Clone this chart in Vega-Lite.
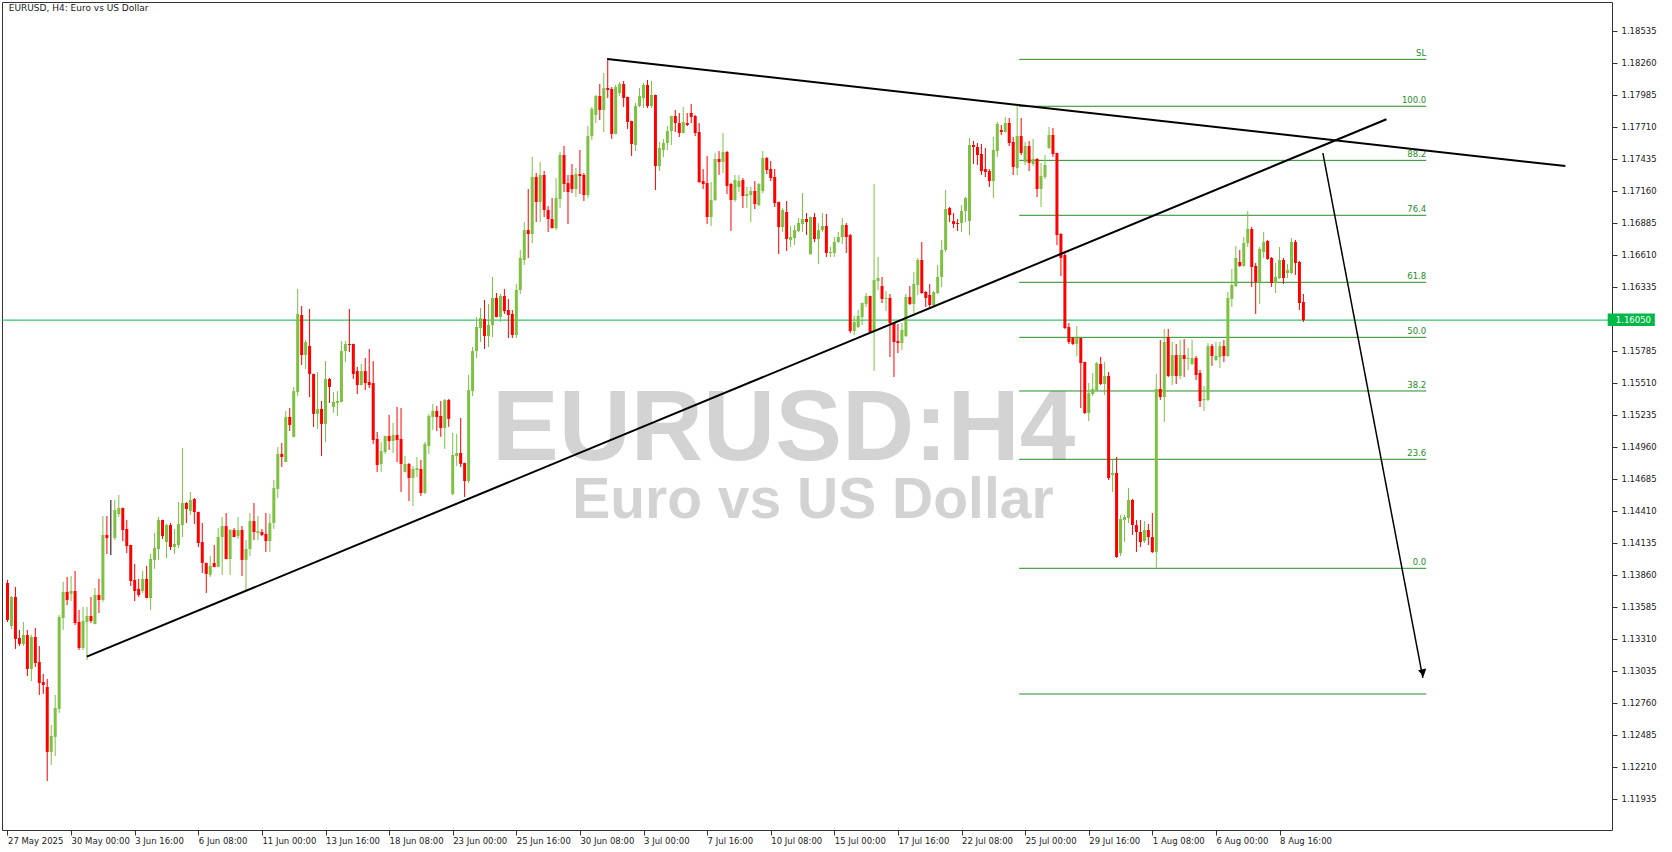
{
"$schema": "https://vega.github.io/schema/vega-lite/v6.json",
"width": 1610, "height": 828,
"autosize": {"type": "none"},
"padding": {"left": 2, "top": 2, "right": 60, "bottom": 22},
"background": "white",
"config": {"view": {"stroke": "#333333", "strokeWidth": 1}},
"resolve": {"axis": {"x": "independent", "y": "independent"}},
"datasets": {
"k": [
{"i":0,"o":1.13791,"h":1.13817,"l":1.13456,"c":1.13473},
{"i":1,"o":1.13421,"h":1.13679,"l":1.13396,"c":1.13671},
{"i":2,"o":1.13671,"h":1.13757,"l":1.13224,"c":1.13310},
{"i":3,"o":1.13318,"h":1.13387,"l":1.13249,"c":1.13267},
{"i":4,"o":1.13267,"h":1.13456,"l":1.13249,"c":1.13344},
{"i":5,"o":1.13344,"h":1.13387,"l":1.12991,"c":1.13052},
{"i":6,"o":1.13052,"h":1.13344,"l":1.12948,"c":1.13327},
{"i":7,"o":1.13327,"h":1.13404,"l":1.13069,"c":1.13103},
{"i":8,"o":1.13112,"h":1.13249,"l":1.12828,"c":1.12931},
{"i":9,"o":1.12940,"h":1.13009,"l":1.12837,"c":1.12914},
{"i":10,"o":1.12897,"h":1.12966,"l":1.12089,"c":1.12339},
{"i":11,"o":1.12339,"h":1.12571,"l":1.12227,"c":1.12476},
{"i":12,"o":1.12468,"h":1.12828,"l":1.12304,"c":1.12717},
{"i":13,"o":1.12709,"h":1.13516,"l":1.12674,"c":1.13499},
{"i":14,"o":1.13490,"h":1.13800,"l":1.13387,"c":1.13714},
{"i":15,"o":1.13714,"h":1.13843,"l":1.13602,"c":1.13645},
{"i":16,"o":1.13697,"h":1.13851,"l":1.13636,"c":1.13722},
{"i":17,"o":1.13722,"h":1.13894,"l":1.13430,"c":1.13447},
{"i":18,"o":1.13456,"h":1.13559,"l":1.13215,"c":1.13232},
{"i":19,"o":1.13232,"h":1.13585,"l":1.13215,"c":1.13464},
{"i":20,"o":1.13456,"h":1.13585,"l":1.13129,"c":1.13507},
{"i":21,"o":1.13507,"h":1.13671,"l":1.13447,"c":1.13464},
{"i":22,"o":1.13439,"h":1.13748,"l":1.13435,"c":1.13688},
{"i":23,"o":1.13688,"h":1.13826,"l":1.13533,"c":1.13645},
{"i":24,"o":1.13645,"h":1.14366,"l":1.13628,"c":1.14203},
{"i":25,"o":1.14203,"h":1.14366,"l":1.14040,"c":1.14177},
{"i":26,"o":1.14186,"h":1.14504,"l":1.14031,"c":1.14186},
{"i":27,"o":1.14177,"h":1.14504,"l":1.14160,"c":1.14418},
{"i":28,"o":1.14384,"h":1.14547,"l":1.14358,"c":1.14435},
{"i":29,"o":1.14435,"h":1.14440,"l":1.14151,"c":1.14246},
{"i":30,"o":1.14255,"h":1.14332,"l":1.14048,"c":1.14108},
{"i":31,"o":1.14117,"h":1.14120,"l":1.13765,"c":1.13808},
{"i":32,"o":1.13817,"h":1.13955,"l":1.13636,"c":1.13722},
{"i":33,"o":1.13740,"h":1.13826,"l":1.13671,"c":1.13688},
{"i":34,"o":1.13722,"h":1.13894,"l":1.13705,"c":1.13826},
{"i":35,"o":1.13826,"h":1.13937,"l":1.13660,"c":1.13662},
{"i":36,"o":1.13662,"h":1.14040,"l":1.13559,"c":1.13997},
{"i":37,"o":1.13989,"h":1.14220,"l":1.13912,"c":1.14091},
{"i":38,"o":1.14083,"h":1.14358,"l":1.13989,"c":1.14332},
{"i":39,"o":1.14332,"h":1.14335,"l":1.14169,"c":1.14194},
{"i":40,"o":1.14143,"h":1.14298,"l":1.14005,"c":1.14289},
{"i":41,"o":1.14289,"h":1.14306,"l":1.14074,"c":1.14100},
{"i":42,"o":1.14100,"h":1.14255,"l":1.14040,"c":1.14126},
{"i":43,"o":1.14117,"h":1.14487,"l":1.14091,"c":1.14298},
{"i":44,"o":1.14289,"h":1.14951,"l":1.14186,"c":1.14478},
{"i":45,"o":1.14478,"h":1.14487,"l":1.14306,"c":1.14427},
{"i":46,"o":1.14409,"h":1.14573,"l":1.14375,"c":1.14504},
{"i":47,"o":1.14513,"h":1.14521,"l":1.14298,"c":1.14401},
{"i":48,"o":1.14401,"h":1.14405,"l":1.14100,"c":1.14134},
{"i":49,"o":1.14143,"h":1.14306,"l":1.13877,"c":1.13963},
{"i":50,"o":1.13963,"h":1.13966,"l":1.13705,"c":1.13869},
{"i":51,"o":1.13860,"h":1.14022,"l":1.13843,"c":1.13937},
{"i":52,"o":1.13963,"h":1.14117,"l":1.13925,"c":1.13929},
{"i":53,"o":1.13929,"h":1.14263,"l":1.13925,"c":1.14186},
{"i":54,"o":1.14186,"h":1.14358,"l":1.13860,"c":1.14280},
{"i":55,"o":1.14280,"h":1.14392,"l":1.13994,"c":1.13997},
{"i":56,"o":1.13997,"h":1.14255,"l":1.13860,"c":1.14246},
{"i":57,"o":1.14246,"h":1.14263,"l":1.14183,"c":1.14186},
{"i":58,"o":1.14194,"h":1.14358,"l":1.14169,"c":1.14246},
{"i":59,"o":1.14246,"h":1.14280,"l":1.13851,"c":1.13989},
{"i":60,"o":1.13989,"h":1.14160,"l":1.13731,"c":1.14083},
{"i":61,"o":1.14083,"h":1.14392,"l":1.14022,"c":1.14323},
{"i":62,"o":1.14323,"h":1.14478,"l":1.14160,"c":1.14229},
{"i":63,"o":1.14220,"h":1.14366,"l":1.14160,"c":1.14237},
{"i":64,"o":1.14229,"h":1.14255,"l":1.14194,"c":1.14203},
{"i":65,"o":1.14212,"h":1.14392,"l":1.14057,"c":1.14151},
{"i":66,"o":1.14151,"h":1.14384,"l":1.14057,"c":1.14306},
{"i":67,"o":1.14306,"h":1.14676,"l":1.14255,"c":1.14607},
{"i":68,"o":1.14599,"h":1.14960,"l":1.14521,"c":1.14900},
{"i":69,"o":1.14900,"h":1.14994,"l":1.14788,"c":1.14874},
{"i":70,"o":1.14831,"h":1.15269,"l":1.14828,"c":1.15218},
{"i":71,"o":1.15218,"h":1.15295,"l":1.15097,"c":1.15149},
{"i":72,"o":1.15046,"h":1.15475,"l":1.15043,"c":1.15440},
{"i":73,"o":1.15432,"h":1.16318,"l":1.15397,"c":1.16103},
{"i":74,"o":1.16094,"h":1.16171,"l":1.15664,"c":1.15750},
{"i":75,"o":1.15750,"h":1.15879,"l":1.15630,"c":1.15862},
{"i":76,"o":1.15827,"h":1.16146,"l":1.15389,"c":1.15587},
{"i":77,"o":1.15587,"h":1.15590,"l":1.15132,"c":1.15244},
{"i":78,"o":1.15244,"h":1.15604,"l":1.15115,"c":1.15287},
{"i":79,"o":1.15287,"h":1.15355,"l":1.14882,"c":1.15158},
{"i":80,"o":1.15158,"h":1.15698,"l":1.15003,"c":1.15544},
{"i":81,"o":1.15544,"h":1.15552,"l":1.15338,"c":1.15475},
{"i":82,"o":1.15304,"h":1.15432,"l":1.15252,"c":1.15347},
{"i":83,"o":1.15338,"h":1.15440,"l":1.15226,"c":1.15355},
{"i":84,"o":1.15347,"h":1.15870,"l":1.15344,"c":1.15784},
{"i":85,"o":1.15784,"h":1.15870,"l":1.15690,"c":1.15845},
{"i":86,"o":1.15845,"h":1.16146,"l":1.15776,"c":1.15836},
{"i":87,"o":1.15845,"h":1.15848,"l":1.15544,"c":1.15587},
{"i":88,"o":1.15612,"h":1.15647,"l":1.15415,"c":1.15492},
{"i":89,"o":1.15492,"h":1.15673,"l":1.15489,"c":1.15612},
{"i":90,"o":1.15612,"h":1.15724,"l":1.15449,"c":1.15509},
{"i":91,"o":1.15518,"h":1.15802,"l":1.15466,"c":1.15492},
{"i":92,"o":1.15509,"h":1.15698,"l":1.14986,"c":1.15020},
{"i":93,"o":1.15029,"h":1.15089,"l":1.14745,"c":1.14805},
{"i":94,"o":1.14814,"h":1.15003,"l":1.14745,"c":1.14925},
{"i":95,"o":1.14917,"h":1.15057,"l":1.14900,"c":1.15054},
{"i":96,"o":1.15054,"h":1.15235,"l":1.14934,"c":1.15011},
{"i":97,"o":1.15011,"h":1.15166,"l":1.14908,"c":1.15063},
{"i":98,"o":1.15063,"h":1.15304,"l":1.14831,"c":1.15020},
{"i":99,"o":1.15029,"h":1.15295,"l":1.14573,"c":1.14814},
{"i":100,"o":1.14745,"h":1.14882,"l":1.14742,"c":1.14814},
{"i":101,"o":1.14814,"h":1.14822,"l":1.14495,"c":1.14693},
{"i":102,"o":1.14693,"h":1.14796,"l":1.14452,"c":1.14771},
{"i":103,"o":1.14762,"h":1.14874,"l":1.14702,"c":1.14779},
{"i":104,"o":1.14771,"h":1.14848,"l":1.14538,"c":1.14564},
{"i":105,"o":1.14564,"h":1.15003,"l":1.14556,"c":1.14986},
{"i":106,"o":1.14968,"h":1.15244,"l":1.14900,"c":1.15226},
{"i":107,"o":1.15218,"h":1.15330,"l":1.15106,"c":1.15269},
{"i":108,"o":1.15269,"h":1.15312,"l":1.15097,"c":1.15218},
{"i":109,"o":1.15226,"h":1.15355,"l":1.15046,"c":1.15123},
{"i":110,"o":1.15123,"h":1.15372,"l":1.14943,"c":1.15364},
{"i":111,"o":1.15364,"h":1.15372,"l":1.15132,"c":1.15201},
{"i":112,"o":1.14556,"h":1.15080,"l":1.14547,"c":1.14891},
{"i":113,"o":1.14882,"h":1.15071,"l":1.14796,"c":1.14908},
{"i":114,"o":1.14908,"h":1.15209,"l":1.14788,"c":1.14814},
{"i":115,"o":1.14822,"h":1.14825,"l":1.14530,"c":1.14667},
{"i":116,"o":1.14667,"h":1.15578,"l":1.14650,"c":1.15449},
{"i":117,"o":1.15440,"h":1.15819,"l":1.15397,"c":1.15784},
{"i":118,"o":1.15784,"h":1.16077,"l":1.15724,"c":1.15991},
{"i":119,"o":1.15982,"h":1.16154,"l":1.15862,"c":1.16068},
{"i":120,"o":1.16060,"h":1.16223,"l":1.15802,"c":1.15913},
{"i":121,"o":1.15913,"h":1.16189,"l":1.15819,"c":1.16008},
{"i":122,"o":1.16008,"h":1.16421,"l":1.15905,"c":1.16240},
{"i":123,"o":1.16240,"h":1.16283,"l":1.16074,"c":1.16077},
{"i":124,"o":1.16077,"h":1.16275,"l":1.16034,"c":1.16257},
{"i":125,"o":1.16257,"h":1.16318,"l":1.16103,"c":1.16128},
{"i":126,"o":1.16137,"h":1.16232,"l":1.15896,"c":1.16094},
{"i":127,"o":1.16103,"h":1.16137,"l":1.15896,"c":1.15922},
{"i":128,"o":1.15922,"h":1.16361,"l":1.15896,"c":1.16309},
{"i":129,"o":1.16309,"h":1.16653,"l":1.16275,"c":1.16584},
{"i":130,"o":1.16567,"h":1.16893,"l":1.16524,"c":1.16824},
{"i":131,"o":1.16824,"h":1.17177,"l":1.16584,"c":1.16790},
{"i":132,"o":1.16790,"h":1.17452,"l":1.16713,"c":1.17280},
{"i":133,"o":1.17280,"h":1.17314,"l":1.16893,"c":1.17065},
{"i":134,"o":1.17065,"h":1.17409,"l":1.16893,"c":1.17297},
{"i":135,"o":1.17297,"h":1.17331,"l":1.16936,"c":1.16996},
{"i":136,"o":1.16996,"h":1.17030,"l":1.16807,"c":1.16919},
{"i":137,"o":1.16919,"h":1.17099,"l":1.16838,"c":1.16841},
{"i":138,"o":1.16841,"h":1.17271,"l":1.16824,"c":1.17099},
{"i":139,"o":1.17091,"h":1.17495,"l":1.17013,"c":1.17469},
{"i":140,"o":1.17469,"h":1.17547,"l":1.17151,"c":1.17220},
{"i":141,"o":1.17228,"h":1.17297,"l":1.16876,"c":1.17151},
{"i":142,"o":1.17297,"h":1.17392,"l":1.17142,"c":1.17177},
{"i":143,"o":1.17177,"h":1.17357,"l":1.17108,"c":1.17306},
{"i":144,"o":1.17306,"h":1.17512,"l":1.17134,"c":1.17288},
{"i":145,"o":1.17297,"h":1.17314,"l":1.17073,"c":1.17125},
{"i":146,"o":1.17125,"h":1.17718,"l":1.17099,"c":1.17632},
{"i":147,"o":1.17632,"h":1.17882,"l":1.17598,"c":1.17865},
{"i":148,"o":1.17813,"h":1.17985,"l":1.17744,"c":1.17976},
{"i":149,"o":1.17976,"h":1.18079,"l":1.17770,"c":1.17856},
{"i":150,"o":1.17856,"h":1.18174,"l":1.17667,"c":1.18045},
{"i":151,"o":1.18045,"h":1.18303,"l":1.17959,"c":1.18028},
{"i":152,"o":1.18036,"h":1.18053,"l":1.17607,"c":1.17650},
{"i":153,"o":1.17650,"h":1.18071,"l":1.17647,"c":1.18053},
{"i":154,"o":1.18002,"h":1.18096,"l":1.17976,"c":1.18079},
{"i":155,"o":1.18079,"h":1.18105,"l":1.17882,"c":1.17959},
{"i":156,"o":1.17968,"h":1.17971,"l":1.17693,"c":1.17753},
{"i":157,"o":1.17761,"h":1.17764,"l":1.17460,"c":1.17564},
{"i":158,"o":1.17555,"h":1.17916,"l":1.17503,"c":1.17890},
{"i":159,"o":1.17890,"h":1.18045,"l":1.17882,"c":1.17976},
{"i":160,"o":1.17959,"h":1.18088,"l":1.17873,"c":1.18071},
{"i":161,"o":1.18071,"h":1.18114,"l":1.17873,"c":1.17890},
{"i":162,"o":1.17890,"h":1.18105,"l":1.17873,"c":1.17985},
{"i":163,"o":1.17985,"h":1.17988,"l":1.17168,"c":1.17374},
{"i":164,"o":1.17374,"h":1.17581,"l":1.17331,"c":1.17529},
{"i":165,"o":1.17512,"h":1.17607,"l":1.17452,"c":1.17572},
{"i":166,"o":1.17572,"h":1.17718,"l":1.17512,"c":1.17675},
{"i":167,"o":1.17675,"h":1.17807,"l":1.17555,"c":1.17804},
{"i":168,"o":1.17804,"h":1.17856,"l":1.17667,"c":1.17744},
{"i":169,"o":1.17744,"h":1.17830,"l":1.17624,"c":1.17658},
{"i":170,"o":1.17658,"h":1.17882,"l":1.17655,"c":1.17753},
{"i":171,"o":1.17744,"h":1.17830,"l":1.17718,"c":1.17727},
{"i":172,"o":1.17830,"h":1.17907,"l":1.17744,"c":1.17796},
{"i":173,"o":1.17804,"h":1.17813,"l":1.17632,"c":1.17658},
{"i":174,"o":1.17667,"h":1.17744,"l":1.17228,"c":1.17237},
{"i":175,"o":1.17245,"h":1.17348,"l":1.17177,"c":1.17220},
{"i":176,"o":1.17228,"h":1.17460,"l":1.16876,"c":1.16936},
{"i":177,"o":1.16936,"h":1.17237,"l":1.16859,"c":1.17082},
{"i":178,"o":1.17082,"h":1.17486,"l":1.17073,"c":1.17435},
{"i":179,"o":1.17435,"h":1.17503,"l":1.17297,"c":1.17409},
{"i":180,"o":1.17409,"h":1.17658,"l":1.17314,"c":1.17495},
{"i":181,"o":1.17495,"h":1.17503,"l":1.17134,"c":1.17203},
{"i":182,"o":1.17220,"h":1.17228,"l":1.16816,"c":1.17082},
{"i":183,"o":1.17082,"h":1.17297,"l":1.17065,"c":1.17254},
{"i":184,"o":1.17194,"h":1.17297,"l":1.17151,"c":1.17245},
{"i":185,"o":1.17254,"h":1.17271,"l":1.17013,"c":1.17117},
{"i":186,"o":1.17117,"h":1.17194,"l":1.17013,"c":1.17134},
{"i":187,"o":1.17125,"h":1.17194,"l":1.16893,"c":1.17160},
{"i":188,"o":1.17160,"h":1.17245,"l":1.17005,"c":1.17048},
{"i":189,"o":1.17039,"h":1.17228,"l":1.17030,"c":1.17220},
{"i":190,"o":1.17160,"h":1.17503,"l":1.17142,"c":1.17443},
{"i":191,"o":1.17443,"h":1.17452,"l":1.17306,"c":1.17340},
{"i":192,"o":1.17349,"h":1.17418,"l":1.17245,"c":1.17271},
{"i":193,"o":1.17280,"h":1.17348,"l":1.17022,"c":1.17056},
{"i":194,"o":1.17065,"h":1.17068,"l":1.16618,"c":1.16850},
{"i":195,"o":1.16850,"h":1.17013,"l":1.16807,"c":1.16996},
{"i":196,"o":1.16979,"h":1.17073,"l":1.16644,"c":1.16747},
{"i":197,"o":1.16739,"h":1.16859,"l":1.16678,"c":1.16764},
{"i":198,"o":1.16756,"h":1.16867,"l":1.16696,"c":1.16824},
{"i":199,"o":1.16816,"h":1.16927,"l":1.16807,"c":1.16885},
{"i":200,"o":1.16876,"h":1.17142,"l":1.16807,"c":1.16919},
{"i":201,"o":1.16919,"h":1.16970,"l":1.16782,"c":1.16893},
{"i":202,"o":1.16618,"h":1.16939,"l":1.16610,"c":1.16936},
{"i":203,"o":1.16936,"h":1.16970,"l":1.16721,"c":1.16747},
{"i":204,"o":1.16747,"h":1.16884,"l":1.16532,"c":1.16824},
{"i":205,"o":1.16824,"h":1.16970,"l":1.16807,"c":1.16859},
{"i":206,"o":1.16859,"h":1.16962,"l":1.16593,"c":1.16627},
{"i":207,"o":1.16627,"h":1.16678,"l":1.16593,"c":1.16636},
{"i":208,"o":1.16627,"h":1.16764,"l":1.16593,"c":1.16721},
{"i":209,"o":1.16721,"h":1.16807,"l":1.16713,"c":1.16764},
{"i":210,"o":1.16764,"h":1.16927,"l":1.16704,"c":1.16867},
{"i":211,"o":1.16867,"h":1.16884,"l":1.16627,"c":1.16764},
{"i":212,"o":1.16781,"h":1.16790,"l":1.15939,"c":1.15956},
{"i":213,"o":1.15956,"h":1.16086,"l":1.15922,"c":1.16034},
{"i":214,"o":1.15991,"h":1.16137,"l":1.15982,"c":1.16086},
{"i":215,"o":1.16077,"h":1.16200,"l":1.16008,"c":1.16197},
{"i":216,"o":1.16189,"h":1.16283,"l":1.16163,"c":1.16257},
{"i":217,"o":1.16257,"h":1.16260,"l":1.15945,"c":1.15948},
{"i":218,"o":1.15948,"h":1.17220,"l":1.15612,"c":1.16395},
{"i":219,"o":1.16386,"h":1.16593,"l":1.16309,"c":1.16412},
{"i":220,"o":1.16343,"h":1.16421,"l":1.16197,"c":1.16232},
{"i":221,"o":1.16232,"h":1.16300,"l":1.16128,"c":1.16240},
{"i":222,"o":1.16240,"h":1.16275,"l":1.15733,"c":1.16025},
{"i":223,"o":1.16025,"h":1.16028,"l":1.15561,"c":1.15862},
{"i":224,"o":1.15870,"h":1.16017,"l":1.15767,"c":1.15853},
{"i":225,"o":1.15853,"h":1.16025,"l":1.15793,"c":1.15965},
{"i":226,"o":1.15913,"h":1.16275,"l":1.15905,"c":1.16249},
{"i":227,"o":1.16249,"h":1.16343,"l":1.16180,"c":1.16189},
{"i":228,"o":1.16189,"h":1.16464,"l":1.16111,"c":1.16361},
{"i":229,"o":1.16352,"h":1.16584,"l":1.16266,"c":1.16567},
{"i":230,"o":1.16567,"h":1.16721,"l":1.16275,"c":1.16283},
{"i":231,"o":1.16292,"h":1.16300,"l":1.16163,"c":1.16240},
{"i":232,"o":1.16266,"h":1.16361,"l":1.16163,"c":1.16180},
{"i":233,"o":1.16180,"h":1.16300,"l":1.16163,"c":1.16292},
{"i":234,"o":1.16283,"h":1.16524,"l":1.16275,"c":1.16421},
{"i":235,"o":1.16421,"h":1.16739,"l":1.16335,"c":1.16653},
{"i":236,"o":1.16653,"h":1.17168,"l":1.16636,"c":1.17005},
{"i":237,"o":1.17013,"h":1.17022,"l":1.16893,"c":1.16953},
{"i":238,"o":1.16902,"h":1.16970,"l":1.16841,"c":1.16876},
{"i":239,"o":1.16884,"h":1.16919,"l":1.16816,"c":1.16876},
{"i":240,"o":1.16884,"h":1.17039,"l":1.16807,"c":1.16988},
{"i":241,"o":1.16988,"h":1.17108,"l":1.16893,"c":1.17099},
{"i":242,"o":1.16902,"h":1.17615,"l":1.16781,"c":1.17555},
{"i":243,"o":1.17555,"h":1.17589,"l":1.17392,"c":1.17538},
{"i":244,"o":1.17538,"h":1.17572,"l":1.17383,"c":1.17469},
{"i":245,"o":1.17478,"h":1.17564,"l":1.17297,"c":1.17331},
{"i":246,"o":1.17349,"h":1.17529,"l":1.17280,"c":1.17323},
{"i":247,"o":1.17331,"h":1.17349,"l":1.17194,"c":1.17245},
{"i":248,"o":1.17245,"h":1.17624,"l":1.17099,"c":1.17512},
{"i":249,"o":1.17503,"h":1.17753,"l":1.17452,"c":1.17736},
{"i":250,"o":1.17684,"h":1.17727,"l":1.17641,"c":1.17667},
{"i":251,"o":1.17667,"h":1.17796,"l":1.17664,"c":1.17744},
{"i":252,"o":1.17744,"h":1.17787,"l":1.17546,"c":1.17572},
{"i":253,"o":1.17581,"h":1.17624,"l":1.17297,"c":1.17366},
{"i":254,"o":1.17357,"h":1.17899,"l":1.17297,"c":1.17632},
{"i":255,"o":1.17632,"h":1.17787,"l":1.17469,"c":1.17486},
{"i":256,"o":1.17409,"h":1.17581,"l":1.17383,"c":1.17546},
{"i":257,"o":1.17546,"h":1.17589,"l":1.17331,"c":1.17400},
{"i":258,"o":1.17392,"h":1.17607,"l":1.17374,"c":1.17435},
{"i":259,"o":1.17435,"h":1.17443,"l":1.17108,"c":1.17177},
{"i":260,"o":1.17177,"h":1.17400,"l":1.17022,"c":1.17288},
{"i":261,"o":1.17280,"h":1.17469,"l":1.17263,"c":1.17383},
{"i":262,"o":1.17529,"h":1.17710,"l":1.17521,"c":1.17641},
{"i":263,"o":1.17641,"h":1.17701,"l":1.17452,"c":1.17478},
{"i":264,"o":1.17486,"h":1.17489,"l":1.16696,"c":1.16781},
{"i":265,"o":1.16790,"h":1.16798,"l":1.16429,"c":1.16584},
{"i":266,"o":1.16610,"h":1.16627,"l":1.15974,"c":1.15982},
{"i":267,"o":1.15991,"h":1.16025,"l":1.15845,"c":1.15862},
{"i":268,"o":1.15896,"h":1.15905,"l":1.15836,"c":1.15845},
{"i":269,"o":1.15845,"h":1.15999,"l":1.15741,"c":1.15896},
{"i":270,"o":1.15896,"h":1.15899,"l":1.15295,"c":1.15681},
{"i":271,"o":1.15690,"h":1.15693,"l":1.15244,"c":1.15252},
{"i":272,"o":1.15252,"h":1.15509,"l":1.15183,"c":1.15423},
{"i":273,"o":1.15415,"h":1.15595,"l":1.15397,"c":1.15458},
{"i":274,"o":1.15449,"h":1.15690,"l":1.15440,"c":1.15681},
{"i":275,"o":1.15673,"h":1.15733,"l":1.15492,"c":1.15501},
{"i":276,"o":1.15501,"h":1.15690,"l":1.15406,"c":1.15570},
{"i":277,"o":1.15570,"h":1.15604,"l":1.14676,"c":1.14693},
{"i":278,"o":1.14719,"h":1.14848,"l":1.14573,"c":1.14736},
{"i":279,"o":1.14736,"h":1.14874,"l":1.14006,"c":1.14014},
{"i":280,"o":1.14048,"h":1.14375,"l":1.14022,"c":1.14341},
{"i":281,"o":1.14332,"h":1.14375,"l":1.14143,"c":1.14358},
{"i":282,"o":1.14349,"h":1.14607,"l":1.14306,"c":1.14504},
{"i":283,"o":1.14504,"h":1.14513,"l":1.14203,"c":1.14289},
{"i":284,"o":1.14289,"h":1.14332,"l":1.14057,"c":1.14229},
{"i":285,"o":1.14229,"h":1.14332,"l":1.14100,"c":1.14143},
{"i":286,"o":1.14151,"h":1.14323,"l":1.14134,"c":1.14246},
{"i":287,"o":1.14246,"h":1.14298,"l":1.14117,"c":1.14186},
{"i":288,"o":1.14186,"h":1.14392,"l":1.14048,"c":1.14057},
{"i":289,"o":1.14057,"h":1.15587,"l":1.13920,"c":1.15458},
{"i":290,"o":1.15458,"h":1.15879,"l":1.15364,"c":1.15389},
{"i":291,"o":1.15389,"h":1.15974,"l":1.15175,"c":1.15862},
{"i":292,"o":1.15905,"h":1.15974,"l":1.15561,"c":1.15570},
{"i":293,"o":1.15570,"h":1.15862,"l":1.15492,"c":1.15750},
{"i":294,"o":1.15750,"h":1.15845,"l":1.15501,"c":1.15570},
{"i":295,"o":1.15570,"h":1.15879,"l":1.15544,"c":1.15750},
{"i":296,"o":1.15750,"h":1.15887,"l":1.15561,"c":1.15716},
{"i":297,"o":1.15716,"h":1.15810,"l":1.15621,"c":1.15724},
{"i":298,"o":1.15673,"h":1.15879,"l":1.15664,"c":1.15724},
{"i":299,"o":1.15724,"h":1.15742,"l":1.15535,"c":1.15578},
{"i":300,"o":1.15596,"h":1.15621,"l":1.15304,"c":1.15355},
{"i":301,"o":1.15364,"h":1.15484,"l":1.15269,"c":1.15372},
{"i":302,"o":1.15364,"h":1.15853,"l":1.15355,"c":1.15827},
{"i":303,"o":1.15827,"h":1.15845,"l":1.15656,"c":1.15742},
{"i":304,"o":1.15707,"h":1.15862,"l":1.15698,"c":1.15742},
{"i":305,"o":1.15733,"h":1.15862,"l":1.15638,"c":1.15827},
{"i":306,"o":1.15827,"h":1.15879,"l":1.15690,"c":1.15742},
{"i":307,"o":1.15742,"h":1.16292,"l":1.15733,"c":1.16240},
{"i":308,"o":1.16232,"h":1.16490,"l":1.16163,"c":1.16352},
{"i":309,"o":1.16343,"h":1.16687,"l":1.16335,"c":1.16584},
{"i":310,"o":1.16550,"h":1.16653,"l":1.16507,"c":1.16516},
{"i":311,"o":1.16516,"h":1.16764,"l":1.16507,"c":1.16713},
{"i":312,"o":1.16713,"h":1.16988,"l":1.16678,"c":1.16833},
{"i":313,"o":1.16833,"h":1.16850,"l":1.16335,"c":1.16507},
{"i":314,"o":1.16516,"h":1.16541,"l":1.16103,"c":1.16378},
{"i":315,"o":1.16378,"h":1.16678,"l":1.16189,"c":1.16661},
{"i":316,"o":1.16636,"h":1.16807,"l":1.16584,"c":1.16721},
{"i":317,"o":1.16730,"h":1.16739,"l":1.16567,"c":1.16576},
{"i":318,"o":1.16584,"h":1.16593,"l":1.16335,"c":1.16369},
{"i":319,"o":1.16369,"h":1.16541,"l":1.16283,"c":1.16421},
{"i":320,"o":1.16412,"h":1.16678,"l":1.16404,"c":1.16567},
{"i":321,"o":1.16567,"h":1.16584,"l":1.16361,"c":1.16412},
{"i":322,"o":1.16455,"h":1.16533,"l":1.16412,"c":1.16481},
{"i":323,"o":1.16455,"h":1.16756,"l":1.16447,"c":1.16721},
{"i":324,"o":1.16721,"h":1.16739,"l":1.16438,"c":1.16541},
{"i":325,"o":1.16550,"h":1.16558,"l":1.16137,"c":1.16197},
{"i":326,"o":1.16206,"h":1.16275,"l":1.16034,"c":1.16050}
],
"fib": [
{"lv":"SL","p":1.18291},
{"lv":"100.0","p":1.17888},
{"lv":"88.2","p":1.17423},
{"lv":"76.4","p":1.16951},
{"lv":"61.8","p":1.16375},
{"lv":"50.0","p":1.15902},
{"lv":"38.2","p":1.15441},
{"lv":"23.6","p":1.14854},
{"lv":"0.0","p":1.13917},
{"lv":"","p":1.12837}
],
"tl": [
{"x1":150.9,"p1":1.18294,"x2":391.9,"p2":1.17374},
{"x1":19.95,"p1":1.13158,"x2":346.9,"p2":1.17776}
],
"arr": [
{"x1":330.9,"p1":1.17486,"x2":356.05,"p2":1.12975}
],
"px": [
{"p":1.16050}
],
"one": [{"n":1}]
},
"layer": [
{
"data": {"name": "k"},
"mark": {"type": "rule", "strokeWidth": 1, "clip": true, "opacity": 0},
"encoding": {
"x": {"field": "i", "type": "quantitative", "scale": {"domain": [-0.125, 402.375], "nice": false, "zero": false},
 "axis": {"orient": "bottom", "values": [0,16,32,48,64,80,96,112,128,144,160,176,192,208,224,240,256,272,288,304,320],
 "labelExpr": "datum.value == 0 ? '27 May 2025' : datum.value == 16 ? '30 May 00:00' : datum.value == 32 ? '3 Jun 16:00' : datum.value == 48 ? '6 Jun 08:00' : datum.value == 64 ? '11 Jun 00:00' : datum.value == 80 ? '13 Jun 16:00' : datum.value == 96 ? '18 Jun 08:00' : datum.value == 112 ? '23 Jun 00:00' : datum.value == 128 ? '25 Jun 16:00' : datum.value == 144 ? '30 Jun 08:00' : datum.value == 160 ? '3 Jul 00:00' : datum.value == 176 ? '7 Jul 16:00' : datum.value == 192 ? '10 Jul 08:00' : datum.value == 208 ? '15 Jul 00:00' : datum.value == 224 ? '17 Jul 16:00' : datum.value == 240 ? '22 Jul 08:00' : datum.value == 256 ? '25 Jul 00:00' : datum.value == 272 ? '29 Jul 16:00' : datum.value == 288 ? '1 Aug 08:00' : datum.value == 304 ? '6 Aug 00:00' : '8 Aug 16:00'",
 "title": null, "grid": false, "domain": false, "ticks": true, "tickSize": 5, "tickColor": "#333333", "labelAlign": "left", "labelBaseline": "top", "labelDx": 1, "labelPadding": 1, "labelFont": "DejaVu Sans", "labelFontSize": 8.5, "labelColor": "#1a1a1a", "labelOverlap": false, "labelFlush": false, "labelBound": false}},
"y": {"field": "l", "type": "quantitative", "scale": {"domain": [1.11668, 1.18784], "nice": false, "zero": false},
 "axis": {"orient": "right", "values": [1.11935,1.1221,1.12485,1.1276,1.13035,1.1331,1.13585,1.1386,1.14135,1.1441,1.14685,1.1496,1.15235,1.1551,1.15785,1.16335,1.1661,1.16885,1.1716,1.17435,1.1771,1.17985,1.1826,1.18535],
 "format": ".5f", "title": null, "grid": false, "domain": false, "ticks": true, "tickSize": 5, "tickColor": "#333333", "labelPadding": 4, "labelFont": "DejaVu Sans", "labelFontSize": 8.5, "labelColor": "#1a1a1a", "labelOverlap": false, "labelBound": false, "labelFlush": false}},
"y2": {"field": "h"}
}
},
{
"data": {"name": "one"},
"mark": {"type": "text", "text": "EURUSD:H4", "font": "Liberation Sans", "fontWeight": "bold", "fontSize": 100, "align": "center", "baseline": "alphabetic", "color": "#d3d3d3"},
"encoding": {
"x": {"datum": 195.25, "type": "quantitative", "scale": {"domain": [-0.125, 402.375], "nice": false, "zero": false}, "axis": null},
"y": {"datum": 1.14848, "type": "quantitative", "scale": {"domain": [1.11668, 1.18784], "nice": false, "zero": false}, "axis": null}
}
},
{
"data": {"name": "one"},
"mark": {"type": "text", "text": "Euro vs US Dollar", "font": "Liberation Sans", "fontWeight": "bold", "fontSize": 57, "align": "center", "baseline": "alphabetic", "color": "#d3d3d3"},
"encoding": {
"x": {"datum": 202.6, "type": "quantitative", "scale": {"domain": [-0.125, 402.375], "nice": false, "zero": false}, "axis": null},
"y": {"datum": 1.14350, "type": "quantitative", "scale": {"domain": [1.11668, 1.18784], "nice": false, "zero": false}, "axis": null}
}
},
{
"data": {"name": "one"},
"mark": {"type": "text", "text": "EURUSD, H4:  Euro vs US Dollar", "font": "DejaVu Sans", "fontSize": 9, "align": "left", "baseline": "top", "color": "#1a1a1a"},
"encoding": {
"x": {"datum": 0.3, "type": "quantitative", "scale": {"domain": [-0.125, 402.375], "nice": false, "zero": false}, "axis": null},
"y": {"datum": 1.18765, "type": "quantitative", "scale": {"domain": [1.11668, 1.18784], "nice": false, "zero": false}, "axis": null}
}
},
{
"data": {"name": "px"},
"mark": {"type": "rule", "color": "#00b846", "strokeWidth": 1},
"encoding": {
"y": {"field": "p", "type": "quantitative", "scale": {"domain": [1.11668, 1.18784], "nice": false, "zero": false}, "axis": null}
}
},
{
"data": {"name": "fib"},
"mark": {"type": "rule", "color": "#268c26", "strokeWidth": 1},
"encoding": {
"x": {"datum": 254.5, "type": "quantitative", "scale": {"domain": [-0.125, 402.375], "nice": false, "zero": false}, "axis": null},
"x2": {"datum": 356.9},
"y": {"field": "p", "type": "quantitative", "scale": {"domain": [1.11668, 1.18784], "nice": false, "zero": false}, "axis": null}
}
},
{
"data": {"name": "fib"},
"mark": {"type": "text", "font": "DejaVu Sans", "fontSize": 8.5, "align": "right", "baseline": "bottom", "dy": -1, "color": "#268c26"},
"encoding": {
"x": {"datum": 356.9, "type": "quantitative", "scale": {"domain": [-0.125, 402.375], "nice": false, "zero": false}, "axis": null},
"y": {"field": "p", "type": "quantitative", "scale": {"domain": [1.11668, 1.18784], "nice": false, "zero": false}, "axis": null},
"text": {"field": "lv"}
}
},
{
"data": {"name": "k"},
"mark": {"type": "rule", "strokeWidth": 1, "clip": true},
"encoding": {
"x": {"field": "i", "type": "quantitative", "scale": {"domain": [-0.125, 402.375], "nice": false, "zero": false}, "axis": null},
"y": {"field": "l", "type": "quantitative", "scale": {"domain": [1.11668, 1.18784], "nice": false, "zero": false}, "axis": null},
"y2": {"field": "h"},
"color": {"condition": [{"test": "datum.c > datum.o", "value": "#7dc142"}, {"test": "datum.c < datum.o", "value": "#ff0000"}], "value": "#000000"}
}
},
{
"data": {"name": "k"},
"mark": {"type": "bar", "width": 3, "clip": true, "orient": "vertical"},
"encoding": {
"x": {"field": "i", "type": "quantitative", "scale": {"domain": [-0.125, 402.375], "nice": false, "zero": false}, "axis": null},
"y": {"field": "o", "type": "quantitative", "scale": {"domain": [1.11668, 1.18784], "nice": false, "zero": false}, "axis": null},
"y2": {"field": "c"},
"color": {"condition": [{"test": "datum.c > datum.o", "value": "#7dc142"}, {"test": "datum.c < datum.o", "value": "#ff0000"}], "value": "#000000"}
}
},
{
"data": {"name": "tl"},
"mark": {"type": "rule", "color": "#000000", "strokeWidth": 2, "clip": true},
"encoding": {
"x": {"field": "x1", "type": "quantitative", "scale": {"domain": [-0.125, 402.375], "nice": false, "zero": false}, "axis": null},
"x2": {"field": "x2"},
"y": {"field": "p1", "type": "quantitative", "scale": {"domain": [1.11668, 1.18784], "nice": false, "zero": false}, "axis": null},
"y2": {"field": "p2"}
}
},
{
"data": {"name": "arr"},
"mark": {"type": "rule", "color": "#000000", "strokeWidth": 1.5},
"encoding": {
"x": {"field": "x1", "type": "quantitative", "scale": {"domain": [-0.125, 402.375], "nice": false, "zero": false}, "axis": null},
"x2": {"field": "x2"},
"y": {"field": "p1", "type": "quantitative", "scale": {"domain": [1.11668, 1.18784], "nice": false, "zero": false}, "axis": null},
"y2": {"field": "p2"}
}
},
{
"data": {"name": "arr"},
"mark": {"type": "point", "shape": "triangle-down", "filled": true, "size": 70, "angle": -11, "color": "#000000", "opacity": 1, "yOffset": -5},
"encoding": {
"x": {"field": "x2", "type": "quantitative", "scale": {"domain": [-0.125, 402.375], "nice": false, "zero": false}, "axis": null},
"y": {"field": "p2", "type": "quantitative", "scale": {"domain": [1.11668, 1.18784], "nice": false, "zero": false}, "axis": null}
}
},
{
"data": {"name": "px"},
"mark": {"type": "rect", "color": "#00b846", "clip": false},
"encoding": {
"x": {"datum": 402.55, "type": "quantitative", "scale": {"domain": [-0.125, 402.375], "nice": false, "zero": false}, "axis": null},
"x2": {"datum": 414.4},
"y": {"datum": 1.16107, "type": "quantitative", "scale": {"domain": [1.11668, 1.18784], "nice": false, "zero": false}, "axis": null},
"y2": {"datum": 1.15999}
}
},
{
"data": {"name": "px"},
"mark": {"type": "text", "font": "DejaVu Sans", "fontSize": 8.5, "align": "left", "baseline": "middle", "color": "#ffffff", "clip": false},
"encoding": {
"x": {"datum": 404.6, "type": "quantitative", "scale": {"domain": [-0.125, 402.375], "nice": false, "zero": false}, "axis": null},
"y": {"field": "p", "type": "quantitative", "scale": {"domain": [1.11668, 1.18784], "nice": false, "zero": false}, "axis": null},
"text": {"field": "p", "format": ".5f"}
}
}
]
}
